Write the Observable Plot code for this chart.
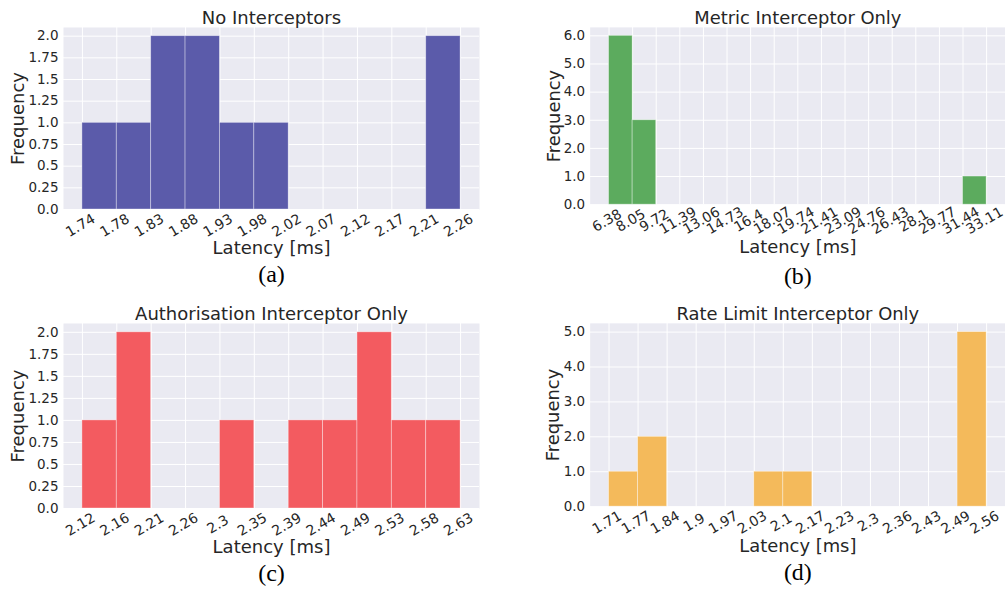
<!DOCTYPE html>
<html>
<head>
<meta charset="utf-8">
<script src="https://cdn.jsdelivr.net/npm/d3@7"></script>
<script src="https://cdn.jsdelivr.net/npm/@observablehq/plot@0.6"></script>
<style>
  html, body { margin: 0; padding: 0; background: #ffffff; overflow: hidden; }
  #wrap { position: relative; width: 1005px; height: 590px; overflow: hidden; background: #fff; }
  .panel { position: absolute; }
</style>
</head>
<body>
<div id="wrap"></div>
<script>
// ---------- data ----------
const titles = ["No Interceptors", "Metric Interceptor Only", "Authorisation Interceptor Only", "Rate Limit Interceptor Only"];
const letters = ["(a)", "(b)", "(c)", "(d)"];

// bin-edge tick labels (x axis)
const aTicks = ["1.74","1.78","1.83","1.88","1.93","1.98","2.02","2.07","2.12","2.17","2.21","2.26"];
const bTicks = ["6.38","8.05","9.72","11.39","13.06","14.73","16.4","18.07","19.74","21.41","23.09","24.76","26.43","28.1","29.77","31.44","33.11"];
const cTicks = ["2.12","2.16","2.21","2.26","2.3","2.35","2.39","2.44","2.49","2.53","2.58","2.63"];
const dTicks = ["1.71","1.77","1.84","1.9","1.97","2.03","2.1","2.17","2.23","2.3","2.36","2.43","2.49","2.56"];

// counts per bin
const aCounts = [1,1,2,2,1,1,0,0,0,0,2];
const bCounts = [6,3,0,0,0,0,0,0,0,0,0,0,0,0,0,1];
const cCounts = [1,2,0,0,1,0,1,1,2,1,1];
const dCounts = [1,2,0,0,0,1,1,0,0,0,0,0,5];

// y tick values and labels
const yTicksFine = [0,0.25,0.5,0.75,1,1.25,1.5,1.75,2];
const yLabelsFine = ["0.0","0.25","0.5","0.75","1.0","1.25","1.5","1.75","2.0"];
const yTicksB = [0,1,2,3,4,5,6];
const yLabelsB = ["0.0","1.0","2.0","3.0","4.0","5.0","6.0"];
const yTicksD = [0,1,2,3,4,5];
const yLabelsD = ["0.0","1.0","2.0","3.0","4.0","5.0"];

const colors = ["#5b5baa", "#5cab5e", "#f35b60", "#f4ba5b"];

// ---------- drawing ----------
function panel(cfg) {
  const n = cfg.counts.length;
  const bins = cfg.counts.map((c, i) => ({i, c})).filter(d => d.c > 0);
  const edges = cfg.ticks.map((t, i) => i);
  const plot = Plot.plot({
    width: cfg.width,
    height: cfg.height,
    marginLeft: cfg.ml,
    marginRight: cfg.mr,
    marginTop: cfg.mt,
    marginBottom: cfg.mb,
    style: {fontFamily: "DejaVu Sans", fontSize: "13px", color: "#262626", background: "transparent", overflow: "visible"},
    x: {type: "linear", domain: [-0.05 * n, 1.05 * n], axis: null},
    y: {domain: [0, cfg.ymax], axis: null},
    marks: [
      Plot.frame({fill: "#eaeaf2", stroke: "none"}),
      Plot.gridX(edges, {stroke: "#ffffff", strokeOpacity: 1, strokeWidth: 1}),
      Plot.gridY(cfg.yTicks, {stroke: "#ffffff", strokeOpacity: 1, strokeWidth: 1}),
      Plot.rect(bins, {x1: "i", x2: d => d.i + 1, y1: 0, y2: "c", fill: cfg.color, stroke: "#ffffff", strokeOpacity: 0.45, strokeWidth: 0.8}),
      Plot.axisY(cfg.yTicks, {tickSize: 0, tickPadding: 5, fontSize: 13.5, fill: "#262626", label: null,
        tickFormat: d => cfg.yLabels[cfg.yTicks.indexOf(d)]}),
      Plot.text(cfg.ticks, {x: (d, i) => i, frameAnchor: "bottom", dy: 16, dx: -2, rotate: -30, text: d => d,
        textAnchor: "middle", lineAnchor: "middle", fontSize: 14, fill: "#262626"}),
      Plot.text([cfg.title], {frameAnchor: "top", dy: -9, textAnchor: "middle", lineAnchor: "middle", fontSize: 18, fill: "#262626"}),
      Plot.text(["Latency [ms]"], {frameAnchor: "bottom", dy: cfg.xlabDy, textAnchor: "middle", lineAnchor: "middle", fontSize: 18, fill: "#262626"}),
      Plot.text(["Frequency"], {frameAnchor: "left", dx: cfg.ylabDx, rotate: -90, textAnchor: "middle", lineAnchor: "middle", fontSize: 18, fill: "#262626"}),
      Plot.text([cfg.letter], {frameAnchor: "bottom", dy: cfg.letterDy, textAnchor: "middle", lineAnchor: "middle", fontSize: 24, fontFamily: "Liberation Serif", fill: "#000000"})
    ]
  });
  const div = document.createElement("div");
  div.className = "panel";
  div.style.left = cfg.left + "px";
  div.style.top = cfg.top + "px";
  div.appendChild(plot);
  document.getElementById("wrap").appendChild(div);
}

panel({title: titles[0], letter: letters[0], ticks: aTicks, counts: aCounts, yTicks: yTicksFine, yLabels: yLabelsFine, ymax: 2.1,
  color: colors[0], left: 0, top: 0, width: 500, height: 290, ml: 63, mr: 21, mt: 27, mb: 81, xlabDy: 39, ylabDx: -45, letterDy: 65});
panel({title: titles[1], letter: letters[1], ticks: bTicks, counts: bCounts, yTicks: yTicksB, yLabels: yLabelsB, ymax: 6.3,
  color: colors[1], left: 500, top: 0, width: 507, height: 290, ml: 90, mr: 0, mt: 27, mb: 85, xlabDy: 43, ylabDx: -36, letterDy: 72});
panel({title: titles[2], letter: letters[2], ticks: cTicks, counts: cCounts, yTicks: yTicksFine, yLabels: yLabelsFine, ymax: 2.1,
  color: colors[2], left: 0, top: 290, width: 500, height: 300, ml: 63, mr: 21, mt: 33, mb: 82, xlabDy: 39, ylabDx: -45, letterDy: 65});
panel({title: titles[3], letter: letters[3], ticks: dTicks, counts: dCounts, yTicks: yTicksD, yLabels: yLabelsD, ymax: 5.25,
  color: colors[3], left: 500, top: 290, width: 507, height: 300, ml: 90, mr: 0, mt: 33, mb: 83, xlabDy: 40, ylabDx: -37, letterDy: 66});
</script>
</body>
</html>
